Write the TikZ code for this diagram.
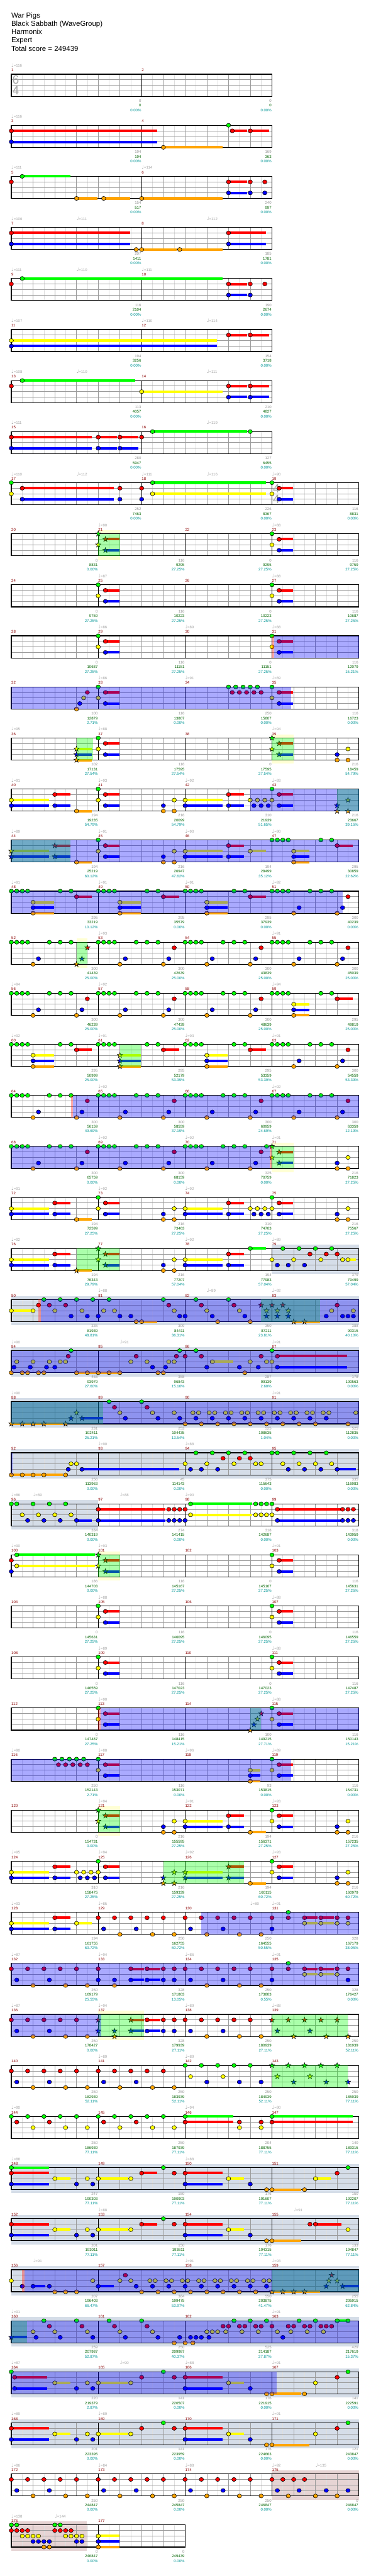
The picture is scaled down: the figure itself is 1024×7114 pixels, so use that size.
\documentclass[tikz,border=0pt]{standalone}
\usepackage{fontspec}
\setmainfont{Liberation Sans}
\newfontfamily\symfont{DejaVu Sans}
\usepackage{tikz}

\definecolor{lane0}{RGB}{0,255,0}
\definecolor{lane1}{RGB}{255,0,0}
\definecolor{lane2}{RGB}{255,255,0}
\definecolor{lane3}{RGB}{0,0,255}
\definecolor{lane4}{RGB}{255,165,0}
\definecolor{gridlt}{RGB}{222,222,222}
\definecolor{griddk}{RGB}{155,155,155}
\definecolor{mnumc}{RGB}{139,0,0}
\definecolor{tempoc}{RGB}{165,165,165}
\definecolor{scoa}{RGB}{150,150,150}
\definecolor{scob}{RGB}{0,100,0}
\definecolor{scoc}{RGB}{0,150,150}
\definecolor{solo}{RGB}{213,221,232}
\definecolor{bre}{RGB}{230,212,212}
\definecolor{spy}{RGB}{255,255,212}
\definecolor{tsigc}{RGB}{165,165,165}

\newcommand\lbl{\fontsize{6pt}{7pt}\selectfont}
\newcommand\hdr{\fontsize{11.3pt}{13pt}\selectfont}

\tikzset{
  row/.style={shift={(31.3,205+141*#1)},x=1.2cm,y=-0.305cm,/utils/exec={\def\rk{#1}}},
  hgrid/.style={draw=gridlt,line width=0.02cm},
  bgrid/.style={draw=griddk,line width=0.02cm},
  lgrid/.style={draw=griddk,line width=0.03cm},
  frame/.style={draw=black,line width=0.04cm},
  bar/.style={draw=black,line width=0.02cm},
  note/.style={draw=black,line width=0.02cm},
  hdrtext/.style={anchor=base west,inner sep=0,font=\hdr},
  mnum/.style={anchor=base west,inner sep=0,text=mnumc,font=\lbl},
  tempo/.style={anchor=base west,inner sep=0,text=tempoc,font=\lbl},
  sca/.style={anchor=base east,inner sep=0,xshift=-0.02cm,text=scoa,font=\lbl},
  scb/.style={anchor=base east,inner sep=0,xshift=-0.02cm,text=scob,font=\lbl},
  scc/.style={anchor=base east,inner sep=0,xshift=-0.02cm,text=scoc,font=\lbl},
  tsig/.style={inner sep=0,text=tsigc,font=\fontsize{19pt}{19pt}\selectfont}
}

\newcommand\staff[1]{%
  \foreach \hx in {0.5,1.5,...,#1} \draw[hgrid] (\hx,0) -- (\hx,4);
  \foreach \hx in {1,...,#1} \draw[bgrid] (\hx,0) -- (\hx,4);
  \foreach \hl in {1,2,3} \draw[lgrid] (0,\hl) -- (#1,\hl);
  \draw[frame] (0,0) rectangle (#1,4);}
\newcommand\mn[2]{\draw[bar] (#1,0) -- (#1,4); \node[mnum] (m#2) at (#1,-0.5) {#2};}
\newcommand\tp[2]{\node[tempo] (t\rk-#1) at (#1,-1.31) {{\symfont\fontsize{7.5pt}{8pt}\selectfont ♩}=#2};}
\newcommand\tsig[3]{\node[tsig] (ts\rk a) at (#1+0.2,1.05) {#2}; \node[tsig] (ts\rk b) at (#1+0.2,3.0) {#3};}
\newcommand\scr[4]{\node[sca] (a\rk-#1) at (#1,5.05) {#2}; \node[scb] (b\rk-#1) at (#1,5.9) {#3}; \node[scc] (c\rk-#1) at (#1,6.75) {#4\%};}

\newcommand\nts[2]{\foreach \pos in {#2}{\filldraw[note,fill=lane#1] (\pos,#1) ellipse [x radius=0.12cm,y radius=0.11cm];}}
\newcommand\sus[2]{\foreach \pos/\pend in {#2}{\draw[lane#1,line width=0.14cm] (\pos,#1) -- (\pend,#1); \filldraw[note,fill=lane#1] (\pos,#1) ellipse [x radius=0.12cm,y radius=0.11cm];}}
\newcommand\stn[2]{\foreach \pos in {#2}{\filldraw[note,fill=lane#1] (\pos,#1) +(90:0.15cm) -- +(126:0.06cm) -- +(162:0.15cm) -- +(198:0.06cm) -- +(234:0.15cm) -- +(270:0.06cm) -- +(306:0.15cm) -- +(342:0.06cm) -- +(18:0.15cm) -- +(54:0.06cm) -- cycle;}}
\newcommand\sts[2]{\foreach \qa/\qe in {#2}{\draw[lane#1,line width=0.14cm] (\qa,#1) -- (\qe,#1); \stn{#1}{\qa}}}

\newcommand\hit[1]{\nts{0}{#1}\nts{2}{#1}\sus{1}{#1+0.33/#1+0.97}\sus{3}{#1+0.33/#1+0.97}}
\newcommand\shit[1]{\stn{0}{#1}\stn{2}{#1}\sts{1}{#1+0.33/#1+0.97}\sts{3}{#1+0.33/#1+0.97}}
\newcommand\tail[1]{\nts{3}{#1}\nts{4}{#1,#1+0.5}\nts{2}{#1+0.5}}
\newcommand\riffa[1]{\nts{0}{#1,#1+0.25,#1+0.5,#1+0.75,#1+1.75,#1+2.25,#1+2.75}\nts{4}{#1+1}\nts{3}{#1+1.25}}
\newcommand\riff[1]{\riffa{#1}\nts{4}{#1+3}\nts{3}{#1+3.25}\nts{1}{#1+3.5}}

\newcommand\solo[2]{\fill[solo] (#1,-0.66) rectangle (#2,4.66);}
\newcommand\brez[2]{\fill[bre] (#1,-0.66) rectangle (#2,4.66);}
\newcommand\spm[2]{\fill[spy] (#1,-0.66) rectangle (#2,0); \fill[spy] (#1,4) rectangle (#2,4.66);}
\newcommand\spz[2]{\fill[green,opacity=0.333] (#1,0) rectangle (#2,4);}
\newcommand\odz[2]{\fill[blue,opacity=0.333] (#1,0) rectangle (#2,4);}
\newcommand\odp[1]{\fill[red,opacity=0.333] (#1,0) rectangle (#1+0.1,4);}

\begin{document}
\begin{tikzpicture}[x=0.02cm,y=-0.02cm]
\useasboundingbox (0,0) rectangle (1024,7114);
\fill[white] (0,0) rectangle (1024,7114);
\node[hdrtext] (title) at (31,49) {War Pigs};
\node[hdrtext] (artist) at (31,72) {Black Sabbath (WaveGroup)};
\node[hdrtext] (author) at (31,95) {Harmonix};
\node[hdrtext] (level) at (31,118) {Expert};
\node[hdrtext] (total) at (31,141) {Total score = 249439};

\begin{scope}[row=0]
\staff{12}\mn{0}{1}\mn{6}{2}\tp{0}{116}\tsig{0}{6}{4}
\scr{6}{0}{0}{0.00}\scr{12}{0}{0}{0.00}
\end{scope}

\begin{scope}[row=1]
\staff{12}\mn{0}{3}\mn{6}{4}\tp{0}{116}
\sus{1}{0/6.72,10.17/10.85,11/11.86}\sus{3}{0/6.72}\sus{4}{7/9.72}\nts{0}{10}
\scr{6}{194}{194}{0.00}\scr{12}{169}{363}{0.00}
\end{scope}

\begin{scope}[row=2]
\staff{12}\mn{0}{5}\mn{6}{6}\tp{0}{111}\tp{6}{114}
\sus{0}{0.5/2.73}\nts{1}{0,11,11.67}\sus{1}{10/10.85}\sus{3}{10/10.85}\nts{3}{11,11.67}
\sus{4}{3/3.97,4.25/5.47,6/9.72}
\scr{6}{154}{517}{0.00}\scr{12}{240}{997}{0.00}
\end{scope}

\begin{scope}[row=3]
\staff{12}\mn{0}{7}\mn{6}{8}\tp{0}{106}\tp{3}{111}\tp{9}{112}
\sus{1}{0/5.47,10/11.72}\sus{3}{0/5.47,10/11.72}\nts{4}{5.75}\sus{4}{6/7.6,7.75/9.72}
\scr{6}{207}{1411}{0.00}\scr{12}{185}{1781}{0.00}
\end{scope}

\begin{scope}[row=4]
\staff{12}\mn{0}{9}\mn{6}{10}\tp{0}{111}\tp{3}{110}\tp{6}{111}
\sus{0}{0.5/9.72}\nts{1}{0,11,11.67}\sus{1}{10/10.85}\sus{3}{10/10.85}\nts{3}{11}
\scr{6}{116}{2104}{0.00}\scr{12}{190}{2674}{0.00}
\end{scope}

\begin{scope}[row=5]
\staff{12}\mn{0}{11}\mn{6}{12}\tp{0}{107}\tp{6}{110}\tp{9}{114}
\sus{2}{0/9.47}\sus{3}{0/9.47}\sus{1}{10/10.85,11/11.86}
\scr{6}{194}{3256}{0.00}\scr{12}{154}{3718}{0.00}
\end{scope}

\begin{scope}[row=6]
\staff{12}\mn{0}{13}\mn{6}{14}\tp{0}{108}\tp{3}{110}\tp{9}{111}
\sus{0}{0.5/5.71}\nts{1}{0}\sus{2}{6/9.72}\sus{1}{10/10.85,11/11.86}\sus{3}{10/10.85,11/11.86}
\scr{6}{113}{4057}{0.00}\scr{12}{210}{4827}{0.00}
\end{scope}

\begin{scope}[row=7]
\staff{12}\mn{0}{15}\mn{6}{16}\tp{0}{111}\tp{9}{119}
\sus{1}{0/3.71,4/4.87,5/5.84}\nts{1}{6}\sus{3}{0/3.71,4/4.87,5/5.84}\sus{0}{6.5/10.85}\nts{0}{11}
\scr{6}{280}{5947}{0.00}\scr{12}{127}{6455}{0.00}
\end{scope}

\begin{scope}[row=8]
\staff{16}\mn{0}{17}\mn{6}{18}\mn{12}{19}\tp{0}{110}\tp{3}{112}\tp{6}{111}\tp{9}{116}\tp{12}{90}\tsig{12}{4}{4}
\nts{0}{0,12}\sus{0}{6.5/11.72}\nts{2}{0,12}\sus{2}{6.5/11.72}
\sus{1}{0.5/4.71,12.33/12.97}\nts{1}{5,6}\sus{3}{0.5/4.71,12.33/12.97}\nts{3}{5,6}
\scr{6}{252}{7463}{0.00}\scr{12}{226}{8367}{0.00}\scr{16}{116}{8831}{0.00}
\end{scope}

\begin{scope}[row=9]
\spm{4}{5}\staff{16}\mn{0}{20}\mn{4}{21}\mn{8}{22}\mn{12}{23}\tp{4}{90}\tp{12}{88}
\shit{4}\hit{12}\spz{4}{5}
\scr{4}{0}{8831}{0.00}\scr{8}{116}{9295}{27.25}\scr{12}{0}{9295}{27.25}\scr{16}{116}{9759}{27.25}
\end{scope}

\begin{scope}[row=10]
\staff{16}\mn{0}{24}\mn{4}{25}\mn{8}{26}\mn{12}{27}\tp{4}{87}\tp{12}{88}
\hit{4}\hit{12}
\scr{4}{0}{9759}{27.25}\scr{8}{116}{10223}{27.25}\scr{12}{0}{10223}{27.25}\scr{16}{116}{10687}{27.25}
\end{scope}

\begin{scope}[row=11]
\staff{16}\mn{0}{28}\mn{4}{29}\mn{8}{30}\mn{12}{31}\tp{4}{86}\tp{8}{89}\tp{12}{88}
\hit{4}\hit{12}\odp{12}\odz{12.1}{16}
\scr{4}{0}{10687}{27.25}\scr{8}{116}{11151}{27.25}\scr{12}{0}{11151}{27.25}\scr{16}{116}{12079}{15.21}
\end{scope}

\begin{scope}[row=12]
\staff{16}\mn{0}{32}\mn{4}{33}\mn{8}{34}\mn{12}{35}\tp{4}{86}\tp{8}{91}\tp{12}{89}
\nts{4}{3}\nts{3}{3.15}\nts{2}{3.33}\nts{1}{3.5}\hit{4}
\nts{0}{10,10.33,10.67,11,11.33}\nts{1}{10.17,10.5,10.83,11.17,11.5}\hit{12}
\odz{0}{12.87}
\scr{4}{100}{12879}{2.71}\scr{8}{116}{13807}{0.00}\scr{12}{250}{15807}{0.00}\scr{16}{116}{16723}{0.00}
\end{scope}

\begin{scope}[row=13]
\spm{12}{13}\staff{16}\mn{0}{36}\mn{4}{37}\mn{8}{38}\mn{12}{39}\tp{0}{95}\tp{4}{88}\tp{12}{94}
\sts{2}{3/3.71}\sts{3}{3/3.71}\sts{4}{3/3.71}\hit{4}\shit{12}\tail{15}
\spz{3}{3.75}\spz{12}{13}
\scr{4}{102}{17131}{27.54}\scr{8}{116}{17595}{27.54}\scr{12}{0}{17595}{27.54}\scr{16}{216}{18459}{54.79}
\end{scope}

\begin{scope}[row=14]
\staff{16}\mn{0}{40}\mn{4}{41}\mn{8}{42}\mn{12}{43}\tp{0}{91}\tp{4}{93}\tp{8}{92}\tp{12}{93}
\sus{2}{0/1.73,8/9.72}\nts{2}{4,7.5,11,11.33,11.67,12}
\sus{3}{0/1.73,2/2.73,4.33/4.97,8/9.72,10/10.72,12.33/12.97}\nts{3}{7,11.17,11.5,11.83}
\sus{1}{2/2.73,4.33/4.97,10/10.72,12.33/12.97}\sus{4}{3/3.71}\nts{4}{7,7.5}\nts{0}{4,12}
\stn{3}{15}\stn{4}{15,15.5}\stn{2}{15.5}
\spz{15}{16}\odz{11}{16}
\scr{4}{194}{19235}{54.79}\scr{8}{216}{20099}{54.79}\scr{12}{310}{21939}{51.65}\scr{16}{216}{23667}{39.15}
\end{scope}

\begin{scope}[row=15]
\staff{16}\mn{0}{44}\mn{4}{45}\mn{8}{46}\mn{12}{47}\tp{0}{89}\tp{4}{91}\tp{8}{90}\tp{12}{90}
\sts{2}{0/1.73}\sts{3}{0/1.73,2/2.73}\sts{1}{2/2.73}\sus{4}{3/3.71}
\nts{0}{4,12,12.25,12.5,12.75,14.25,14.75}\nts{2}{4,7.5}
\sus{1}{4.33/4.97,10/10.72,15/15.72}\sus{3}{4.33/4.97,8/9.72,10/10.72,13/13.72}
\nts{3}{7}\nts{4}{7,7.5}\sus{2}{8/9.72,11/11.72,13/13.72}\sus{4}{13/13.72}
\spz{0}{2.73}\odz{0}{16}
\scr{4}{194}{25219}{60.12}\scr{8}{216}{26947}{47.62}\scr{12}{194}{28499}{35.12}\scr{16}{295}{30859}{22.62}
\end{scope}

\begin{scope}[row=16]
\staff{16}\mn{0}{48}\mn{4}{49}\mn{8}{50}\mn{12}{51}\tp{0}{91}\tp{4}{91}\tp{8}{91}\tp{12}{92}
\nts{0}{0,0.25,0.5,0.75,2.25,2.75,4,4.25,4.5,4.75,6.25,6.75,8,8.25,8.5,8.75,10.25,10.75,12,12.25,12.5,12.75,13.75,14.25,14.75}
\sus{1}{3/3.71,7/7.72,11/11.72}\nts{1}{15.5}
\sus{2}{1/1.97,5/5.97,9/9.97}\sus{3}{1/1.97,5/5.97,9/9.97}\sus{4}{1/1.97,5/5.97,9/9.97}
\nts{3}{13.25,15.25}\nts{4}{13,15}
\odz{0}{15.25}
\scr{4}{295}{33219}{10.12}\scr{8}{295}{35579}{0.00}\scr{12}{295}{37939}{0.00}\scr{16}{300}{40239}{0.00}
\end{scope}

\begin{scope}[row=17]
\spm{3}{3.5}\staff{16}\mn{0}{52}\mn{4}{53}\mn{8}{54}\mn{12}{55}\tp{4}{93}\tp{12}{91}
\riffa{0}\stn{4}{3}\stn{3}{3.25}\stn{1}{3.5}\riff{4}\riff{8}\riff{12}
\spz{3}{3.5}
\scr{4}{300}{41439}{25.00}\scr{8}{300}{42639}{25.00}\scr{12}{300}{43839}{25.00}\scr{16}{300}{45039}{25.00}
\end{scope}

\begin{scope}[row=18]
\staff{16}\mn{0}{56}\mn{4}{57}\mn{8}{58}\mn{12}{59}\tp{0}{94}\tp{4}{92}\tp{12}{94}
\riff{0}\riff{4}\riff{8}
\nts{0}{12,12.25,12.5,12.75,14.25,14.75}\sus{2}{13/13.72}\sus{3}{13/13.72}\sus{4}{13/13.72}\sus{1}{15/15.72}
\scr{4}{300}{46239}{25.00}\scr{8}{300}{47439}{25.00}\scr{12}{300}{48639}{25.00}\scr{16}{295}{49819}{25.00}
\end{scope}

\begin{scope}[row=19]
\staff{16}\mn{0}{60}\mn{4}{61}\mn{8}{62}\mn{12}{63}\tp{0}{92}\tp{4}{91}\tp{8}{93}\tp{12}{91}
\nts{0}{0,0.25,0.5,0.75,2.25,2.75}\sus{2}{1/1.97}\sus{3}{1/1.97}\sus{4}{1/1.97}\sus{1}{3/3.71}
\nts{0}{4,4.25,4.5,4.75,6.25,6.75}\sts{2}{5/5.97}\sts{3}{5/5.97}\sts{4}{5/5.97}\sus{1}{7/7.72}
\nts{0}{8,8.25,8.5,8.75,10.25,10.75}\sus{2}{9/9.97}\sus{3}{9/9.97}\sus{4}{9/9.97}\sus{1}{11/11.72}
\riff{12}\spz{5}{5.97}
\scr{4}{295}{50999}{25.00}\scr{8}{295}{52179}{53.39}\scr{12}{295}{53359}{53.39}\scr{16}{300}{54559}{53.39}
\end{scope}

\begin{scope}[row=20]
\staff{16}\mn{0}{64}\mn{4}{65}\mn{8}{66}\mn{12}{67}\tp{4}{92}\tp{12}{92}
\riff{0}\riff{4}\riff{8}\riff{12}\odp{2.75}\odz{2.85}{16}
\scr{4}{300}{56159}{49.69}\scr{8}{300}{58559}{37.19}\scr{12}{300}{60959}{24.69}\scr{16}{300}{63359}{12.19}
\end{scope}

\begin{scope}[row=21]
\spm{12}{13}\staff{16}\mn{0}{68}\mn{4}{69}\mn{8}{70}\mn{12}{71}\tp{4}{92}\tp{8}{92}\tp{12}{91}
\riff{0}\riff{4}\riff{8}\nts{0}{11.75}\shit{12}\tail{15}
\odz{0}{11.9}\odp{11.9}\spz{12}{13}
\scr{4}{300}{65759}{0.00}\scr{8}{300}{68159}{0.00}\scr{12}{325}{70759}{0.00}\scr{16}{216}{71823}{27.25}
\end{scope}

\begin{scope}[row=22]
\staff{16}\mn{0}{72}\mn{4}{73}\mn{8}{74}\mn{12}{75}\tp{0}{91}\tp{4}{92}\tp{8}{92}
\sus{2}{0/1.73,8/9.72}\nts{2}{4,7.5,11,11.33,11.67,12}
\sus{3}{0/1.73,2/2.73,4.33/4.97,8/9.72,10/10.72,12.33/12.97}\nts{3}{7,11.17,11.5,11.83}
\sus{1}{2/2.73,4.33/4.97,10/10.72,12.33/12.97}\sus{4}{3/3.71}\nts{4}{7,7.5}\nts{0}{4,12}\tail{15}
\scr{4}{194}{72599}{27.25}\scr{8}{216}{73463}{27.25}\scr{12}{310}{74703}{27.25}\scr{16}{216}{75567}{27.25}
\end{scope}

\begin{scope}[row=23]
\solo{12}{16}\staff{16}\mn{0}{76}\mn{4}{77}\mn{8}{78}\mn{12}{79}\tp{0}{92}\tp{8}{92}\tp{12}{89}
\sus{2}{0/1.73,8/9.72}\sus{3}{0/1.73,2/2.73,8/9.72,10/10.72}\sus{1}{2/2.73,10/10.72}
\sts{4}{3/3.71}\shit{4}\nts{3}{7}\nts{4}{7,7.5}\nts{2}{7.5}\sus{0}{11/11.72}
\nts{2}{12,13,14.25,15.25}\sus{2}{15.5/15.86}\nts{3}{12.25,12.75,13.5}\nts{0}{12.5,13.25,14,14.75}\nts{1}{13.75,14.5,15}
\spz{3}{4.97}
\scr{4}{194}{76343}{29.79}\scr{8}{216}{77207}{57.04}\scr{12}{194}{77983}{57.04}\scr{16}{379}{79499}{57.04}
\end{scope}

\begin{scope}[row=24]
\solo{0}{16}\staff{16}\mn{0}{80}\mn{4}{81}\mn{8}{82}\mn{12}{83}\tp{4}{88}\tp{9}{89}\tp{12}{92}
\nts{0}{1.5,2.25,3,3.75,4.5,7,8.5,10}
\nts{1}{1.25,1.75,2.5,7.25,8.75,10.25,15}\stn{1}{11.5,12,12.5}
\sus{2}{0/0.9}\nts{2}{1,2,3.25,4.25,4.75,7.5,9,10.5,14.75,15.75}\stn{2}{11.75,12.25,12.75}
\nts{3}{2.75,3.5,4,5,5.5,7.75,8,9.25,10.75,14.5,15.25,15.5,15.75}\stn{3}{11.75,12.25,12.75}
\nts{4}{5.75,9.5,11}\sus{4}{6/6.72}\sts{4}{13/13.4,13.5/14.22}
\spz{11.5}{14.22}\odp{1.25}\odz{1.35}{16}
\scr{4}{335}{81939}{48.81}\scr{8}{309}{84411}{36.31}\scr{12}{350}{87211}{23.81}\scr{16}{388}{90315}{40.10}
\end{scope}

\begin{scope}[row=25]
\solo{0}{16}\staff{16}\mn{0}{84}\mn{4}{85}\mn{8}{86}\mn{12}{87}\tp{0}{90}\tp{5}{91}\tp{12}{91}
\nts{4}{0,0.5,0.75,1.25,1.5,5,6.75,7,10.75}\sus{4}{3/3.4,3.5/3.9,4/4.4,4.5/4.9}
\nts{3}{0.12,0.87,1.62,2,6.5,7.1,9,10.5,11.37}\sus{3}{12.25/15.47}
\nts{2}{0.25,1,1.75,2.25,2.5,5.5,6.25,7.25,7.5,11,11.75,12}\sus{2}{9.25/10.22}
\nts{1}{2.62,5.75,7.6,8,8.75,11.5}\sus{1}{12.25/15.47}
\nts{0}{2.75,7.75,8.5,12}
\odz{0}{16}
\scr{4}{458}{93979}{27.60}\scr{8}{358}{96843}{15.10}\scr{12}{287}{99139}{2.60}\scr{16}{178}{100563}{0.00}
\end{scope}

\begin{scope}[row=26]
\solo{0}{16}\staff{16}\mn{0}{88}\mn{4}{89}\mn{8}{90}\mn{12}{91}\tp{0}{90}\tp{12}{91}
\sts{4}{0/0.4,0.5/0.9,1/1.4,1.5/2.36}\stn{4}{2.5}\stn{3}{2.75}\stn{2}{3}\sts{3}{3.25/4.22}
\nts{0}{4.5,6}\nts{1}{4.75,6.25}\nts{2}{5,6.5,7.5}\nts{3}{5.25,6.75,7.75}
\foreach \kk in {0,...,8}{\pgfmathsetmacro\tq{8+0.75*\kk}\nts{4}{\tq}\nts{2}{\tq+0.36,\tq+0.62}\nts{3}{\tq+0.5}}
\nts{4}{15.5}\nts{2}{15.86}
\spz{0}{4.22}\odz{0}{16}
\scr{4}{231}{102411}{25.21}\scr{8}{253}{104435}{13.54}\scr{12}{525}{108635}{1.04}\scr{16}{525}{112835}{0.00}
\end{scope}

\begin{scope}[row=27]
\solo{0}{16}\staff{16}\mn{0}{92}\mn{4}{93}\mn{8}{94}\mn{12}{95}\tp{4}{90}\tp{8}{88}
\sus{4}{0/0.4,0.5/0.9,1/1.4,1.5/2.36}\nts{4}{2.5}
\nts{3}{2.62}\nts{2}{2.75,3}\sus{3}{3.25/7.72}
\nts{0}{8.5,9.25,10,10.75,12,12.25,13,13.75,14.5}\nts{1}{9.75,10.5,11}
\nts{2}{8,9,10.25,11.25,11.5,12.5,13.25,14,14.75}
\nts{3}{8.25,8.75,9.5,12.75,13.5,14.25}\sus{3}{15/15.86}
\odz{0}{0.05}
\scr{4}{256}{113963}{0.00}\scr{8}{45}{114143}{0.00}\scr{12}{375}{115643}{0.00}\scr{16}{335}{116983}{0.00}
\end{scope}

\begin{scope}[row=28]
\solo{0}{4}\staff{16}\mn{0}{96}\mn{4}{97}\mn{8}{98}\mn{12}{99}\tp{0}{86}\tp{1}{89}\tp{5}{88}\tp{8}{90}
\nts{0}{0,0.25,1,1.75,2.5}\nts{2}{0.5,1.25,2,2.75}\nts{3}{0.75,1.5,2.25}\sus{3}{3/3.71}
\sus{1}{4/7.1}\nts{1}{7.25,7.5,7.75,8}\sus{3}{4/7.1}\nts{3}{7.25,7.5,7.75,8}
\sus{0}{8.25/11.1}\nts{0}{11.25,11.5,11.75,12}\sus{2}{8.25/11.1}\nts{2}{11.25,11.5,11.75,12}
\sus{1}{12.25/15.2}\nts{1}{15.25,15.5,15.75}\sus{3}{12.25/15.2}\nts{3}{15.25,15.5,15.75}
\scr{4}{334}{140319}{0.00}\scr{8}{274}{141415}{0.00}\scr{12}{318}{142687}{0.00}\scr{16}{318}{143959}{0.00}
\end{scope}

\begin{scope}[row=29]
\spm{4}{5}\staff{16}\mn{0}{100}\mn{4}{101}\mn{8}{102}\mn{12}{103}\tp{0}{90}\tp{4}{93}\tp{12}{91}
\sus{0}{0.25/3.86}\sus{2}{0.25/3.86}\nts{1}{0}\nts{3}{0}\shit{4}\hit{12}\spz{4}{5}
\scr{4}{186}{144703}{0.00}\scr{8}{116}{145167}{27.25}\scr{12}{0}{145167}{27.25}\scr{16}{116}{145631}{27.25}
\end{scope}

\begin{scope}[row=30]
\staff{16}\mn{0}{104}\mn{4}{105}\mn{8}{106}\mn{12}{107}\tp{4}{88}\tp{12}{88}
\hit{4}\hit{12}
\scr{4}{0}{145631}{27.25}\scr{8}{116}{146095}{27.25}\scr{12}{0}{146095}{27.25}\scr{16}{116}{146559}{27.25}
\end{scope}

\begin{scope}[row=31]
\staff{16}\mn{0}{108}\mn{4}{109}\mn{8}{110}\mn{12}{111}\tp{4}{89}\tp{12}{88}
\hit{4}\hit{12}
\scr{4}{0}{146559}{27.25}\scr{8}{116}{147023}{27.25}\scr{12}{0}{147023}{27.25}\scr{16}{116}{147487}{27.25}
\end{scope}

\begin{scope}[row=32]
\staff{16}\mn{0}{112}\mn{4}{113}\mn{8}{114}\mn{12}{115}\tp{4}{90}\tp{12}{88}
\hit{4}\stn{4}{11}\stn{3}{11.17}\stn{2}{11.33}\stn{1}{11.5}\hit{12}
\spz{11}{11.5}\odp{4}\odz{4.1}{16}
\scr{4}{0}{147487}{27.25}\scr{8}{116}{148415}{15.21}\scr{12}{100}{149215}{27.71}\scr{16}{116}{150143}{15.21}
\end{scope}

\begin{scope}[row=33]
\staff{16}\mn{0}{116}\mn{4}{117}\mn{8}{118}\mn{12}{119}\tp{0}{90}\tp{4}{88}\tp{8}{96}\tp{12}{89}
\nts{0}{2,2.33,2.67,3,3.33}\nts{1}{2.17,2.5,2.83,3.17,3.5}\hit{4}
\sus{2}{11/11.47}\sus{3}{11/11.47}\sus{4}{11/11.47}\hit{12}
\odz{0}{12.87}
\scr{4}{250}{152143}{2.71}\scr{8}{116}{153071}{0.00}\scr{12}{93}{153815}{0.00}\scr{16}{116}{154731}{0.00}
\end{scope}

\begin{scope}[row=34]
\spm{4}{5}\staff{16}\mn{0}{120}\mn{4}{121}\mn{8}{122}\mn{12}{123}\tp{4}{94}\tp{8}{91}\tp{12}{93}
\shit{4}\nts{3}{7}\nts{4}{7,7.5}\nts{2}{7.5}\sus{2}{8/9.72}\sus{3}{8/9.72,10/10.72}\sus{1}{10/10.72}
\sus{4}{11/11.72}\hit{12}\tail{15}\spz{4}{5}
\scr{4}{0}{154731}{0.00}\scr{8}{216}{155595}{27.25}\scr{12}{194}{156371}{27.25}\scr{16}{216}{157235}{27.25}
\end{scope}

\begin{scope}[row=35]
\staff{16}\mn{0}{124}\mn{4}{125}\mn{8}{126}\mn{12}{127}\tp{0}{95}\tp{4}{94}\tp{8}{92}\tp{12}{93}
\sus{2}{0/1.73}\sus{3}{0/1.73,2/2.73}\sus{1}{2/2.73}\nts{2}{3,3.33,3.67}\nts{3}{3.17,3.5,3.83}\hit{4}
\stn{3}{7}\stn{4}{7,7.5}\stn{2}{7.5}\sts{2}{8/9.72}\sts{3}{8/9.72,10/10.72}\sts{1}{10/10.72}
\sus{4}{11/11.72}\hit{12}\tail{15}\spz{7}{10.72}
\scr{4}{310}{158475}{27.25}\scr{8}{216}{159339}{27.25}\scr{12}{194}{160115}{60.72}\scr{16}{216}{160979}{60.72}
\end{scope}

\begin{scope}[row=36]
\staff{16}\mn{0}{128}\mn{4}{129}\mn{8}{130}\mn{12}{131}\tp{0}{93}\tp{4}{85}\tp{11}{80}\tp{12}{91}
\sus{2}{0/1.73,3/3.71}\sus{3}{0/1.73,2/2.73}\sus{1}{2/2.73}
\nts{1}{4,4.75,5.5,6.25,7,8,8.75,9.5,10.25,11,12,12.75,15,15.5}
\nts{3}{4.25,5.75,8.25,9.75,12}\nts{4}{5,6.5,7.5,9,10.5,11.5}\nts{0}{12.75}
\sus{1}{13.5/14.1,14.25/14.85}\sus{2}{13.5/14.1,14.25/14.85}\nts{2}{15,15.5}
\odz{8.73}{16}
\scr{4}{194}{161755}{60.72}\scr{8}{250}{162755}{60.72}\scr{12}{250}{164555}{50.55}\scr{16}{328}{167179}{38.05}
\end{scope}

\begin{scope}[row=37]
\staff{16}\mn{0}{132}\mn{4}{133}\mn{8}{134}\mn{12}{135}\tp{0}{87}\tp{4}{94}\tp{8}{86}\tp{12}{91}
\nts{1}{0,0.75,1.5,2.25,3,4,7,7.5,8,8.75,9.5,10.25,11,12,12.75,15,15.5}
\nts{3}{0.25,1.75,4,4.75,7,7.5,8.25,9.75,12,15.5}\nts{4}{1,2.5,3.5,4.75,9,10.5,11.5}
\sus{1}{5.5/6.1,6.25/6.85,13.5/14.1,14.25/14.85}\sus{3}{5.5/6.1,6.25/6.85}
\nts{0}{12.75}\sus{2}{13.5/14.1,14.25/14.85}\nts{2}{15}
\odz{0}{16}
\scr{4}{250}{169179}{25.55}\scr{8}{328}{171803}{13.05}\scr{12}{250}{173803}{0.55}\scr{16}{328}{176427}{0.00}
\end{scope}

\begin{scope}[row=38]
\spm{4}{6.1}\staff{16}\mn{0}{136}\mn{4}{137}\mn{8}{138}\mn{12}{139}\tp{0}{87}\tp{4}{94}\tp{8}{89}\tp{12}{88}
\nts{1}{0,0.75,1.5,2.25,3,7,7.5,8,8.75,9.5,10.25,11}\sus{1}{6.25/6.85}
\nts{3}{0.25,1.75,7,7.5,8.25,9.75}\sus{3}{6.25/6.85}\nts{4}{1,2.5,3.5,9,10.5,11.5}
\stn{1}{4,12,12.75,13.5,14.25,15}\sts{1}{5.5/6.1}\stn{3}{4,4.75,12.25,13.75}\sts{3}{5.5/6.1}\stn{4}{4.75,13,14.5,15.5}
\spz{4}{6.1}\spz{12}{15.5}\odz{0}{4.15}
\scr{4}{250}{178427}{0.00}\scr{8}{328}{179939}{27.11}\scr{12}{250}{180939}{27.11}\scr{16}{250}{181939}{52.11}
\end{scope}

\begin{scope}[row=39]
\staff{16}\mn{0}{140}\mn{4}{141}\mn{8}{142}\mn{12}{143}\tp{4}{89}\tp{8}{89}
\nts{1}{0,0.75,1.5,2.25,3,4,4.75,5.5,6.25,7}\nts{3}{0.25,1.75,4.25,5.75}\nts{4}{1,2.5,3.5,5,6.5,7.5}
\nts{0}{8,8.75,9.5,10.25,11}\nts{2}{8.25,9.75}\nts{3}{9,10.5,11.5}
\stn{0}{12,12.75,13.5,14.25,15}\stn{2}{12.25,13.75}\stn{3}{13,14.5,15.5}
\spz{12}{15.5}
\scr{4}{250}{182939}{52.11}\scr{8}{250}{183939}{52.11}\scr{12}{250}{184939}{52.11}\scr{16}{250}{185939}{77.11}
\end{scope}

\begin{scope}[row=40]
\staff{16}\mn{0}{144}\mn{4}{145}\mn{8}{146}\mn{12}{147}\tp{0}{90}\tp{8}{94}\tp{12}{90}
\nts{0}{0,0.75,1.5,2.25,3,4,4.75,5.5,6.25,7}\nts{1}{0.25,1.75,4.25,5.75}\nts{2}{1,2.5,3.5,5,6.5,7.5}
\sus{0}{8/10.22,12/15.72}\sus{1}{8/10.22,12/15.72}\nts{1}{10.5,11.5}\nts{2}{10.5,11.5}
\scr{4}{250}{186939}{77.11}\scr{8}{250}{187939}{77.11}\scr{12}{204}{188755}{77.11}\scr{16}{140}{189315}{77.11}
\end{scope}

\begin{scope}[row=41]
\solo{0}{16}\staff{16}\mn{0}{148}\mn{4}{149}\mn{8}{150}\mn{12}{151}\tp{0}{88}\tp{8}{88}
\sus{0}{0/1.73}\nts{0}{7,15.5}\sus{1}{0/1.73,6/6.72,8/9.72}\nts{1}{7.5,15}
\sus{2}{2/2.73,4/5.38,10/10.72,14/14.72}\nts{2}{3.5,5.5}
\sus{3}{0/1.73,8/9.72}\nts{3}{3,3.75,11}\nts{4}{11.75,13.5}\sus{4}{12/13.35}
\scr{4}{247}{190303}{77.11}\scr{8}{150}{190903}{77.11}\scr{12}{176}{191607}{77.11}\scr{16}{150}{192207}{77.11}
\end{scope}

\begin{scope}[row=42]
\solo{0}{16}\staff{16}\mn{0}{152}\mn{4}{153}\mn{8}{154}\mn{12}{155}\tp{4}{88}\tp{13}{91}
\sus{1}{0/1.73,6/6.72,8/9.72,14/15.2}\nts{1}{7.5,13.75}\nts{0}{7}
\sus{2}{2/2.73,4/5.38,10/10.72}\nts{2}{3.5,5.5,15.5}
\sus{3}{0/1.73,8/9.72}\nts{3}{3,3.75,11}\nts{4}{11.75}\sus{4}{12/13.35}
\scr{4}{201}{193011}{77.11}\scr{8}{150}{193611}{77.11}\scr{12}{176}{194315}{77.11}\scr{16}{133}{194847}{77.11}
\end{scope}

\begin{scope}[row=43]
\solo{0}{16}\staff{16}\mn{0}{156}\mn{4}{157}\mn{8}{158}\mn{12}{159}\tp{1}{91}\tp{8}{91}\tp{12}{93}
\nts{2}{0,3.75,5,5.5}\nts{3}{0.5,1.75}\sus{3}{1/1.55,4/4.72}\nts{4}{2,2.5,3}\nts{1}{5.25}
\foreach \kk in {0,...,8}{\pgfmathsetmacro\tq{5.75+0.75*\kk}\nts{3}{\tq}}
\foreach \kk in {1,...,8}{\pgfmathsetmacro\tq{5.75+0.75*\kk}\nts{2}{\tq-0.125,\tq+0.125}}
\foreach \kk in {0,...,7}{\pgfmathsetmacro\tq{6+0.75*\kk}\nts{4}{\tq}}
\sts{4}{12/12.4,12.5/12.9,13/13.4,13.5/14.22}\stn{3}{14.5}\stn{2}{14.62,15}\stn{1}{14.75}\sts{3}{15.25/16}
\odp{0.5}\odz{0.6}{12}\spz{12}{16}\odz{12}{16}
\scr{4}{207}{196403}{66.47}\scr{8}{384}{199475}{53.97}\scr{12}{550}{203875}{41.47}\scr{16}{255}{205915}{62.84}
\end{scope}

\begin{scope}[row=44]
\solo{0}{16}\staff{16}\mn{0}{160}\mn{4}{161}\mn{8}{162}\mn{12}{163}\tp{0}{91}\tp{12}{91}
\sts{3}{0/0.72}
\nts{0}{1.5,3,4.5,6,10.25,11,11.75,13.25,14}\sus{0}{15/15.4}\nts{0}{15.5}
\nts{1}{1.75,3.25,4.75,6.25,9.75,10,10.5,10.75,11.25,11.5,12,12.75,13,13.5,13.75,14.25,14.5,14.75}
\nts{2}{1,2,3.5,5,6.5,9,9.25,9.5,9.87,10.62,11.37,12.25,12.87,13.62,14.37}
\nts{3}{1.14,2.25,3.75,5.25,6.75,7.75,8.25,8.5,8.75,9.1,12.5}\nts{4}{7.5,8,8.36}
\spz{0}{0.72}\odz{0}{16}
\scr{4}{259}{207987}{52.87}\scr{8}{250}{209987}{40.37}\scr{12}{525}{214187}{27.87}\scr{16}{429}{217619}{15.37}
\end{scope}

\begin{scope}[row=45]
\solo{0}{16}\staff{16}\mn{0}{164}\mn{4}{165}\mn{8}{166}\mn{12}{167}\tp{0}{87}\tp{5}{90}\tp{8}{88}\tp{12}{91}
\nts{0}{0,7,15.5}\sus{1}{0.15/1.64,8/9.72}\nts{1}{6,7.5,15}
\sus{2}{2/2.73,4/5.38,10/10.72}\nts{2}{3.5,5.5,14}
\sus{3}{0.15/1.64,8/9.72}\nts{3}{3,3.75,11}\nts{4}{11.75,13.5}\sus{4}{12/13.35}
\odz{0}{12.22}
\scr{4}{220}{219379}{2.87}\scr{8}{141}{220507}{0.00}\scr{12}{176}{221915}{0.00}\scr{16}{141}{222591}{0.00}
\end{scope}

\begin{scope}[row=46]
\solo{0}{16}\staff{16}\mn{0}{168}\mn{4}{169}\mn{8}{170}\mn{12}{171}\tp{0}{89}\tp{4}{89}\tp{12}{91}
\sus{1}{0/1.73,8/9.72}\nts{1}{6,7.5,15}\nts{0}{7,15.5}
\sus{2}{2/2.73,4/5.38,10/10.72}\nts{2}{3.5,5.5,14}
\sus{3}{0/1.73,8/9.72}\nts{3}{3,3.75,11}\nts{4}{11.75}\sus{4}{12/13.72}
\scr{4}{201}{223395}{0.00}\scr{8}{141}{223959}{0.00}\scr{12}{176}{224663}{0.00}\scr{16}{121}{243847}{0.00}
\end{scope}

\begin{scope}[row=47]
\brez{12}{16}\staff{16}\mn{0}{172}\mn{4}{173}\mn{8}{174}\mn{12}{175}\tp{0}{86}\tp{4}{84}\tp{8}{88}\tp{12}{92}\tp{14}{135}
\nts{1}{0,0.75,1.5,2.25,3,4,4.75,5.5,6.25,7,8,8.75,9.5,10.25,11,12,12.5,13,13.5}
\nts{3}{0.25,1.75,4.25,5.75,8.25,9.75,12.25,13.25,14.5,15.5}
\nts{4}{1,2.5,3.5,5,6.5,7.5,9,10.5,11.5,12.75,14,15}
\scr{4}{250}{244847}{0.00}\scr{8}{250}{245847}{0.00}\scr{12}{250}{246847}{0.00}\scr{16}{0}{246847}{0.00}
\end{scope}

\begin{scope}[row=48]
\brez{0}{3.47}\staff{8}\mn{0}{176}\mn{4}{177}\tp{0}{138}\tp{2}{144}
\nts{0}{0,0.25,2,2.25}\nts{1}{0,0.25,0.5,0.75,2,2.25,2.5,2.75}
\nts{2}{0.5,0.75,1,1.25,2.5,2.75,3,3.25}\nts{3}{1,1.25,1.5,1.75,3,3.25}\nts{4}{1.5,1.75}
\sus{2}{4/4.97}\sus{3}{4/4.97}\sus{4}{4/4.97}
\scr{4}{0}{246847}{0.00}\scr{8}{0}{249439}{0.00}
\end{scope}
\end{tikzpicture}
\end{document}
